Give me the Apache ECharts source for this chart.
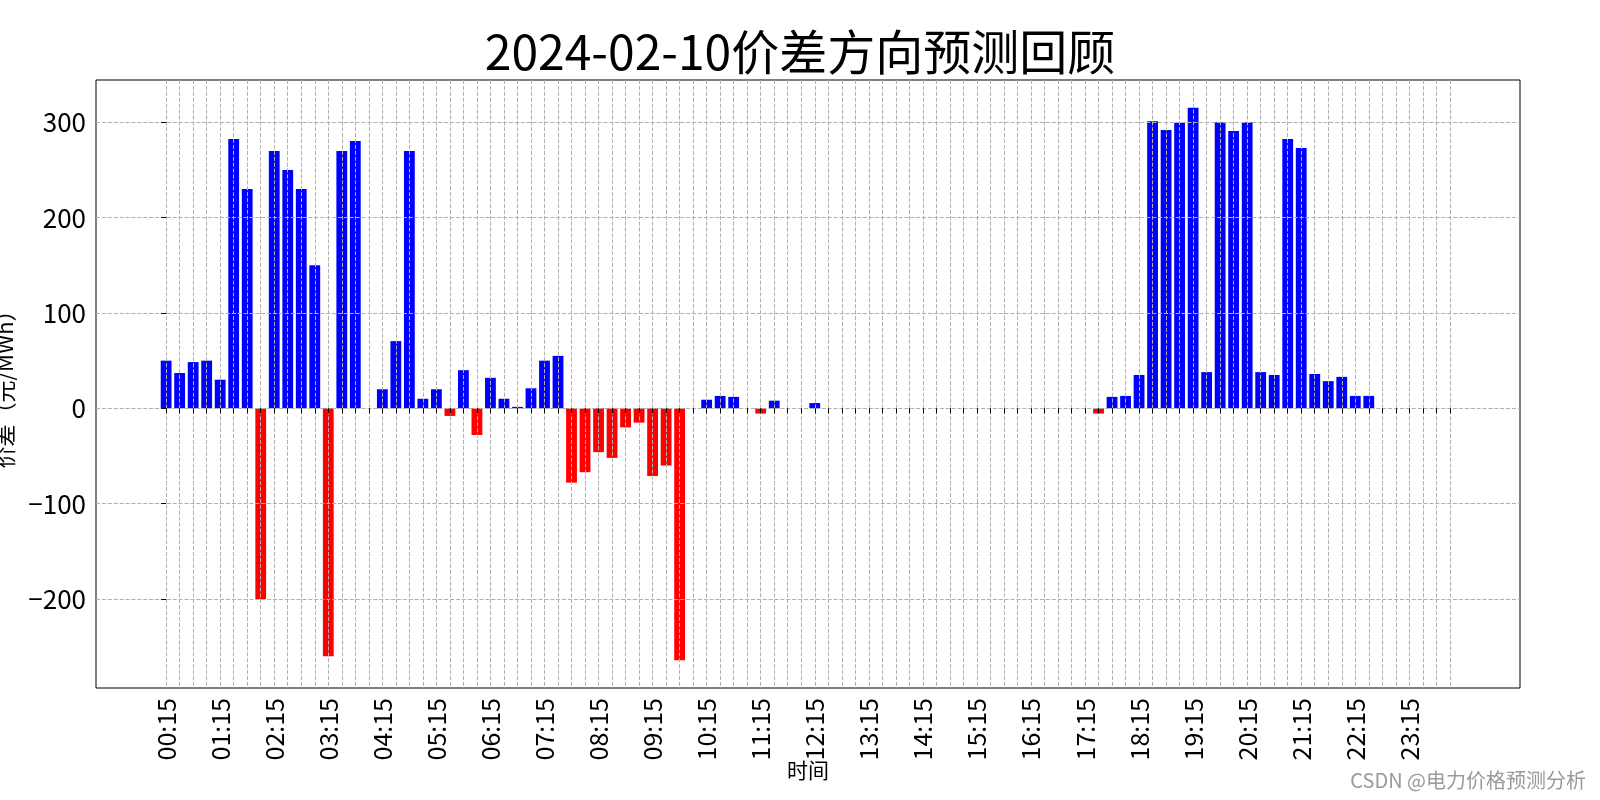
<!DOCTYPE html>
<html>
<head>
<meta charset="utf-8">
<script src="https://cdn.jsdelivr.net/npm/echarts@6/dist/echarts.min.js"></script>
<style>html,body{margin:0;padding:0;background:#fff}#c{width:1600px;height:800px}</style>
</head>
<body>
<div id="c"></div>
<script>
const categories = [
"00:15","00:30","00:45","01:00","01:15","01:30","01:45","02:00","02:15","02:30","02:45","03:00",
"03:15","03:30","03:45","04:00","04:15","04:30","04:45","05:00","05:15","05:30","05:45","06:00",
"06:15","06:30","06:45","07:00","07:15","07:30","07:45","08:00","08:15","08:30","08:45","09:00",
"09:15","09:30","09:45","10:00","10:15","10:30","10:45","11:00","11:15","11:30","11:45","12:00",
"12:15","12:30","12:45","13:00","13:15","13:30","13:45","14:00","14:15","14:30","14:45","15:00",
"15:15","15:30","15:45","16:00","16:15","16:30","16:45","17:00","17:15","17:30","17:45","18:00",
"18:15","18:30","18:45","19:00","19:15","19:30","19:45","20:00","20:15","20:30","20:45","21:00",
"21:15","21:30","21:45","22:00","22:15","22:30","22:45","23:00","23:15","23:30","23:45","24:00"
];
const priceDiff = [
50, 37, 48.5, 50, 30, 282.5, 230, -200, 270, 250, 230, 150,
-260, 270, 280.5, 0, 20, 70.5, 270, 10, 20, -8, 40, -28,
32, 10, 1.5, 21, 50, 55, -78, -67, -46, -52, -20, -15,
-71, -60, -264.4, 0, 9, 13, 12, 0, -5.5, 8, 0, 0,
5.5, 0, 0, 0, 0, 0, 0, 0, 0, 0, 0, 0,
0, 0, 0, 0, 0, 0, 0, 0, 0, -5.5, 12, 13,
35, 301, 292, 299.5, 315.4, 38, 300, 291, 300, 38, 35, 282.5,
273, 36, 28.5, 33, 13, 13, 0, 0, 0, 0, 0, 0
];
const yTicks = [-200, -100, 0, 100, 200, 300];
const xLabelEvery = 4;

const FONT = "'Noto Sans CJK SC', 'Noto Sans', sans-serif";
const gridLine = { color: '#b0b0b0', width: 1, type: [4.1, 1.8] };
const xTickIdx = categories.map((c, i) => i);
const xLabelIdx = xTickIdx.filter(i => i % xLabelEvery === 0);

const chart = echarts.init(document.getElementById('c'), null, { renderer: 'canvas' });
chart.setOption({
  animation: false,
  backgroundColor: '#ffffff',
  title: {
    text: '2024-02-10价差方向预测回顾',
    left: 'center',
    top: 28,
    padding: [0, 0, 0, 16],
    textStyle: { fontFamily: FONT, fontSize: 48, fontWeight: 'normal', color: '#000' }
  },
  grid: {
    left: 96, top: 80, width: 1424, height: 608,
    outerBoundsMode: 'none',
    containLabel: false,
    show: true, borderColor: '#000', borderWidth: 1, backgroundColor: 'transparent'
  },
  xAxis: {
    type: 'value',
    min: -5.19, max: 100.19,
    z: 5,
    name: '时间',
    nameLocation: 'middle',
    nameGap: 72,
    nameMoveOverlap: false,
    nameTextStyle: { fontFamily: FONT, fontSize: 21, color: '#000' },
    axisLine: { show: false },
    axisTick: { show: true, length: 5, inside: false, customValues: xTickIdx, lineStyle: { color: '#000', width: 1 } },
    axisLabel: {
      customValues: xLabelIdx,
      rotate: 90, margin: 10,
      fontFamily: FONT, fontSize: 25, color: '#000',
      formatter: v => categories[Math.round(v)]
    },
    splitLine: { show: true, lineStyle: gridLine }
  },
  yAxis: {
    type: 'value',
    min: -293.4, max: 344.4,
    z: 5,
    name: '价差（元/MWh）',
    nameLocation: 'middle',
    nameGap: 80,
    nameMoveOverlap: false,
    nameRotate: 90,
    nameTextStyle: { fontFamily: FONT, fontSize: 22, color: '#000' },
    axisLine: { show: false },
    axisTick: { show: true, length: 5, customValues: yTicks, lineStyle: { color: '#000', width: 1 } },
    axisLabel: {
      customValues: yTicks, margin: 10,
      fontFamily: FONT, fontSize: 26, color: '#000',
      formatter: v => String(v).replace('-', '\u2212')
    },
    splitLine: { show: true, lineStyle: gridLine }
  },
  series: [{
    type: 'bar',
    z: 2,
    barWidth: '80%',
    data: categories.map((c, i) => [i, priceDiff[i]]),
    itemStyle: { color: p => (p.value[1] >= 0 ? '#0000ff' : '#ff0000') }
  }],
  graphic: [{
    type: 'text',
    right: 14,
    top: 770,
    style: { text: 'CSDN @电力价格预测分析', fontFamily: FONT, fontSize: 20, fill: '#9a9a9a' }
  }]
});
</script>
</body>
</html>
